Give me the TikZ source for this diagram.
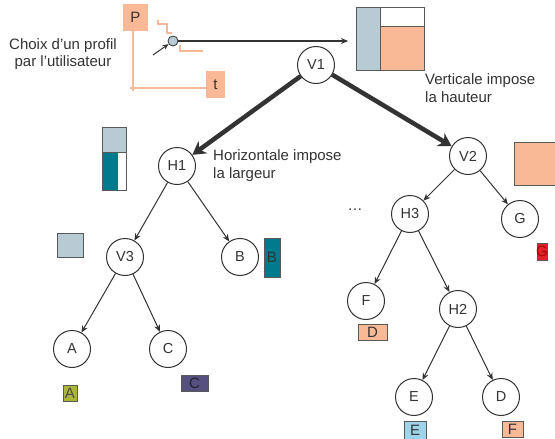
\documentclass[tikz,border=0pt]{standalone}
\usepackage{fontspec}
\setmainfont{Liberation Sans}
\usepackage{tikz}
\usetikzlibrary{arrows.meta}
\usetikzlibrary{calc}
\definecolor{saumon}{HTML}{F9B896}
\definecolor{grisbleu}{HTML}{B8CBD5}
\definecolor{canard}{HTML}{007A8C}
\definecolor{violet}{HTML}{56507F}
\definecolor{olive}{HTML}{AAB53A}
\definecolor{ciel}{HTML}{9ED3E9}
\definecolor{rouge}{HTML}{E0202A}
\definecolor{encre}{HTML}{333333}
\tikzstyle{noeud}=[circle, draw=encre, line width=1pt, fill=white, minimum size=37pt, inner sep=0pt, text=encre, font=\fontsize{14.5}{16}\selectfont]
\tikzstyle{fin}=[draw=encre, line width=1pt, -{Stealth[length=7pt,width=6pt]}]
\tikzstyle{gros}=[draw=encre, line width=4.5pt, -{Stealth[length=13pt,width=15pt]}]
\tikzstyle{boite}=[draw=black!65, line width=0.8pt]
\tikzstyle{legende}=[text=encre, align=left, anchor=north west, inner sep=0pt, font=\fontsize{15}{18}\selectfont]
\newcommand{\carreLettre}[6]{
	\draw[boite, fill=#2] #3 rectangle #4;
	\node[inner sep=0pt, text=#5, font=\fontsize{15}{16}\selectfont] (#1) at ($1/2*#3+1/2*#4$) {#6};
}

\begin{document}
\begin{tikzpicture}[x=1pt,y=-1pt]
	\useasboundingbox (0,0) rectangle (555,439);
	% choix du profil
	\draw[saumon, line width=1.2pt] (133,31) -- (133,91);
	\draw[saumon, line width=1.2pt] (130,88) -- (206,88);
	\node[fill=saumon, minimum width=25pt, minimum height=27pt, inner sep=0pt, text=encre, font=\fontsize{15}{16}\selectfont] (axeP) at (135.5,17.5) {P};
	\node[fill=saumon, minimum width=19pt, minimum height=27pt, inner sep=0pt, text=encre, font=\fontsize{15}{16}\selectfont] (axeT) at (215.5,84.5) {t};
	\draw[saumon, line width=1.2pt] (158,20) -- (158,24) -- (167,24) -- (167,33) -- (172,33);
	\draw[saumon, line width=1.2pt] (180,45) -- (180,51) -- (203,51);
	\node[circle, draw=encre, line width=0.8pt, fill=grisbleu, minimum size=10pt, inner sep=0pt] (curseur) at (173,41) {};
	\coordinate (souris) at (153,55);
	\coordinate (vue) at (348,41);
	\draw[encre, line width=1pt, -{Stealth[length=6pt,width=5pt]}] (souris) -- (curseur);
	\draw[encre, line width=1.2pt, -{Stealth[length=7pt,width=6pt]}] (curseur) -- (vue);
	\node[text=encre, align=center, inner sep=0pt, font=\fontsize{15}{17.5}\selectfont] (choix) at (63,54) {Choix d'un profil\\par l'utilisateur};
	% decoupes
	\draw[boite, fill=grisbleu] (356,7) rectangle (380,70);
	\draw[boite, fill=white] (380,7) rectangle (424,26);
	\draw[boite, fill=saumon] (380,26) rectangle (424,70);
	\draw[boite, fill=saumon] (514,142) rectangle (560,185);
	\draw[boite, fill=grisbleu] (102,127) rectangle (126,152);
	\draw[boite, fill=canard] (102,152) rectangle (117,190);
	\draw[boite, fill=white] (117,152) rectangle (126,190);
	\draw[boite, fill=grisbleu] (57,233) rectangle (83,257);
	\node[legende] (vert) at (425,73) {Verticale impose\\la hauteur};
	\node[legende] (horiz) at (213,149) {Horizontale impose\\la largeur};
	\node[text=encre, font=\fontsize{15}{16}\selectfont] (suite) at (355,210) {\dots};
	% arbre
	\node[noeud] (V1) at (316,65) {V1};
	\node[noeud] (V2) at (468,156) {V2};
	\node[noeud] (H1) at (177,166) {H1};
	\node[noeud] (V3) at (125,257) {V3};
	\node[noeud] (B) at (240,257) {B};
	\node[noeud] (H3) at (410,214) {H3};
	\node[noeud] (G) at (520,219) {G};
	\node[noeud] (F) at (366,301) {F};
	\node[noeud] (H2) at (458,309) {H2};
	\node[noeud] (A) at (72,349) {A};
	\node[noeud] (C) at (168,349) {C};
	\node[noeud] (E) at (414,397) {E};
	\node[noeud] (D) at (501,397) {D};
	\draw[gros] (V1) -- (H1);
	\draw[gros] (V1) -- (V2);
	\draw[fin] (H1) -- (V3);
	\draw[fin] (H1) -- (B);
	\draw[fin] (V3) -- (A);
	\draw[fin] (V3) -- (C);
	\draw[fin] (V2) -- (H3);
	\draw[fin] (V2) -- (G);
	\draw[fin] (H3) -- (F);
	\draw[fin] (H3) -- (H2);
	\draw[fin] (H2) -- (E);
	\draw[fin] (H2) -- (D);
	% pieces
	\carreLettre{pB}{canard}{(264,238)}{(280,277)}{encre}{B}
	\carreLettre{pG}{rouge}{(537,243)}{(547,260)}{red!70!black}{G}
	\carreLettre{pD}{saumon}{(358,324)}{(387,340)}{encre}{D}
	\carreLettre{pA}{olive}{(63,385)}{(77,401)}{black!70}{A}
	\carreLettre{pC}{violet}{(181,375)}{(208,391)}{black!60!violet}{C}
	\carreLettre{pE}{ciel}{(404,421)}{(426,439)}{encre}{E}
	\carreLettre{pF}{saumon}{(502,421)}{(523,437)}{encre}{F}
\end{tikzpicture}
\end{document}
